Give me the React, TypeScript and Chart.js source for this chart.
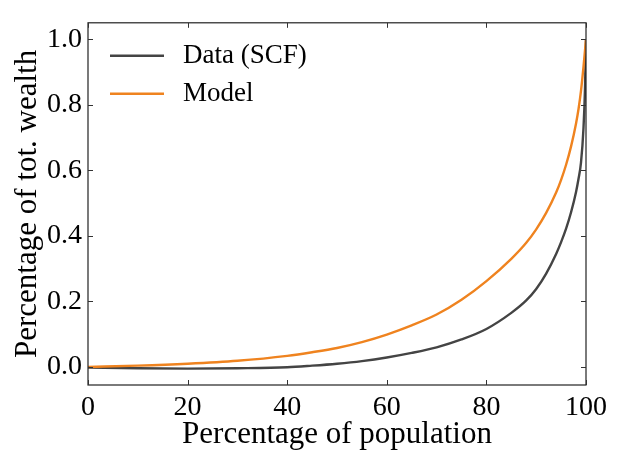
import React, { useEffect, useRef } from "react";
import { Chart, registerables } from "chart.js";

Chart.register(...registerables);

const population = [0, 10, 20, 30, 40, 45, 50, 55, 60, 65, 70, 75, 80, 85, 88, 90, 92, 94, 95, 96, 97, 98, 98.5, 99, 99.5, 99.8, 100];
const dataSCF = [-0.002, -0.004, -0.005, -0.004, -0.001, 0.004, 0.01, 0.018, 0.029, 0.043, 0.06, 0.084, 0.116, 0.165, 0.203, 0.238, 0.285, 0.345, 0.381, 0.422, 0.472, 0.534, 0.574, 0.624, 0.73, 0.85, 1.0];
const modelShares = [0.0, 0.004, 0.01, 0.019, 0.034, 0.045, 0.058, 0.076, 0.099, 0.127, 0.16, 0.205, 0.262, 0.33, 0.379, 0.42, 0.47, 0.532, 0.571, 0.617, 0.673, 0.743, 0.787, 0.843, 0.916, 0.966, 1.0];
const seriesLabels = ["Data (SCF)", "Model"];
const seriesColors = ["#444444", "#ef831f"];
const xTicks = [0, 20, 40, 60, 80, 100];
const yTicks = [0, 0.2, 0.4, 0.6, 0.8, 1.0];

const FONT = "'Liberation Serif', 'Times New Roman', serif";

const framePlugin = {
  id: "frameAndLegend",
  afterDatasetsDraw(chart: any) {
    const { ctx, chartArea: a, scales } = chart;
    ctx.save();
    ctx.strokeStyle = "#222";
    ctx.lineWidth = 1.2;
    ctx.strokeRect(a.left, a.top, a.right - a.left, a.bottom - a.top);
    ctx.strokeStyle = "#333";
    ctx.lineWidth = 1;
    const L = 5;
    scales.x.ticks.forEach((t: any) => {
      const px = Math.round(scales.x.getPixelForValue(t.value)) + 0.5;
      ctx.beginPath();
      ctx.moveTo(px, a.bottom);
      ctx.lineTo(px, a.bottom - L);
      ctx.moveTo(px, a.top);
      ctx.lineTo(px, a.top + L);
      ctx.stroke();
    });
    scales.y.ticks.forEach((t: any) => {
      const py = Math.round(scales.y.getPixelForValue(t.value)) + 0.5;
      ctx.beginPath();
      ctx.moveTo(a.left, py);
      ctx.lineTo(a.left + L, py);
      ctx.moveTo(a.right, py);
      ctx.lineTo(a.right - L, py);
      ctx.stroke();
    });
    chart.data.datasets.forEach((ds: any, i: number) => {
      const y = a.top + 33 + i * 38;
      ctx.strokeStyle = ds.borderColor;
      ctx.lineWidth = ds.borderWidth;
      ctx.beginPath();
      ctx.moveTo(a.left + 22, y);
      ctx.lineTo(a.left + 76, y);
      ctx.stroke();
      ctx.fillStyle = "#000";
      ctx.font = `27px ${FONT}`;
      ctx.textBaseline = "middle";
      ctx.textAlign = "left";
      ctx.fillText(ds.label, a.left + 95, y);
    });
    ctx.restore();
  },
};

export default function App() {
  const canvasRef = useRef<HTMLCanvasElement | null>(null);

  useEffect(() => {
    document.body.style.margin = "0";
    const canvas = canvasRef.current;
    if (!canvas) return;
    const series = [dataSCF, modelShares];
    const chart = new Chart(canvas, {
      type: "line",
      data: {
        datasets: series.map((vals, i) => ({
          label: seriesLabels[i],
          data: population.map((p, j) => ({ x: p, y: vals[j] })),
          borderColor: seriesColors[i],
          backgroundColor: seriesColors[i],
          borderWidth: 2.4,
          pointRadius: 0,
          fill: false,
          cubicInterpolationMode: "monotone" as const,
          order: i === 0 ? 1 : 0,
        })),
      },
      options: {
        responsive: false,
        animation: false,
        layout: { padding: { top: 8, right: 32, bottom: 0, left: 0 } },
        plugins: { legend: { display: false }, tooltip: { enabled: false } },
        scales: {
          x: {
            type: "linear",
            min: 0,
            max: 100,
            afterBuildTicks: (s: any) => {
              s.ticks = xTicks.map((v) => ({ value: v }));
            },
            afterFit: (s: any) => {
              s.height = 68;
            },
            grid: { display: false, drawTicks: false },
            border: { display: false },
            ticks: {
              font: { family: FONT, size: 28 },
              color: "#000",
              padding: 6,
              maxRotation: 0,
              autoSkip: false,
              callback: (v: any) => String(v),
            },
            title: {
              display: true,
              text: "Percentage of population",
              font: { family: FONT, size: 31 },
              color: "#000",
              padding: { top: 0, bottom: 0 },
            },
          },
          y: {
            type: "linear",
            min: -0.055,
            max: 1.05,
            afterBuildTicks: (s: any) => {
              s.ticks = yTicks.map((v) => ({ value: v }));
            },
            afterFit: (s: any) => {
              s.width = 88;
            },
            grid: { display: false, drawTicks: false },
            border: { display: false },
            ticks: {
              font: { family: FONT, size: 28 },
              color: "#000",
              padding: 6,
              autoSkip: false,
              callback: (v: any) => Number(v).toFixed(1),
            },
            title: {
              display: true,
              text: "Percentage of tot. wealth",
              font: { family: FONT, size: 31 },
              color: "#000",
              padding: { top: 9, bottom: 0 },
            },
          },
        },
      },
      plugins: [framePlugin],
    });
    return () => chart.destroy();
  }, []);

  return (
    <div style={{ width: 618, height: 453 }}>
      <canvas ref={canvasRef} width={618} height={453} />
    </div>
  );
}
